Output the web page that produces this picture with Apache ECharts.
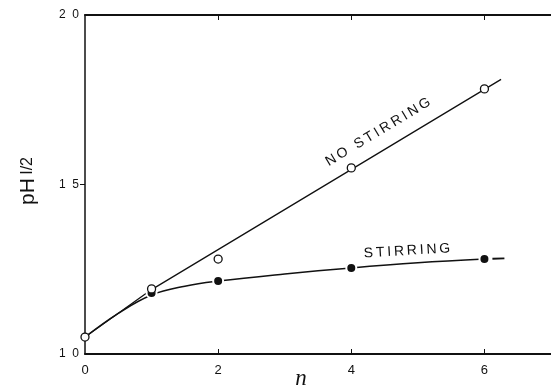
<!DOCTYPE html>
<html>
<head>
<meta charset="utf-8">
<script src="https://cdn.jsdelivr.net/npm/echarts@6/dist/echarts.min.js"></script>
<style>
  html, body { margin: 0; padding: 0; background: #fff; }
  #chart { width: 551px; height: 391px; }
</style>
</head>
<body>
<div id="chart"></div>
<script>
// Measured points: pH 1/2 against n
const nValues = [0, 1, 2, 4, 6];
const noStirringPoints = [10.5, 11.92, 12.8, 15.49, 17.82];
const stirringN = [1, 2, 4, 6];
const stirringPoints = [11.8, 12.15, 12.54, 12.8];

// Drawn trend curves through the data
const noStirringCurveN = [0, 1, 6.25];
const noStirringCurveY = [10.5, 11.9, 18.1];
const stirringCurveN = [0, 0.5, 1, 1.5, 2, 3, 4, 5, 6];
const stirringCurveY = [10.5, 11.2, 11.74, 12.0, 12.15, 12.36, 12.54, 12.69, 12.8];
const stirringTailN = [6.12, 6.3];
const stirringTailY = [12.81, 12.82];

// Axis ticks
const xTicks = [0, 2, 4, 6];
const yTicks = [10, 15, 20];
const yTickLabels = ['1  0', '1  5', '2  0'];

const pairs = (xs, ys) => xs.map((x, i) => [x, ys[i]]);
const font = '"Liberation Sans", "DejaVu Sans", sans-serif';
const ink = '#111';
const spaced = s => s.split('').join('\u2009');

const chart = echarts.init(document.getElementById('chart'));
chart.setOption({
  animation: false,
  backgroundColor: '#fff',
  grid: { left: 85, top: 15, right: 0, bottom: 37 },
  xAxis: [
    {
      type: 'value', min: 0, max: 7, position: 'bottom',
      splitLine: { show: false },
      axisLine: { lineStyle: { color: ink, width: 2 } },
      axisTick: { inside: true, length: 5, customValues: [2, 4, 6], lineStyle: { color: ink, width: 1 } },
      axisLabel: { customValues: xTicks, color: ink, fontFamily: font, fontSize: 13, margin: 10 }
    },
    {
      type: 'value', min: 0, max: 7, position: 'top',
      splitLine: { show: false },
      axisLine: { lineStyle: { color: ink, width: 2 } },
      axisTick: { inside: true, length: 5, customValues: [2, 4, 6], lineStyle: { color: ink, width: 1 } },
      axisLabel: { show: false }
    }
  ],
  yAxis: {
    type: 'value', min: 10, max: 20, interval: 5,
    splitLine: { show: false },
    axisLine: { lineStyle: { color: ink, width: 1.5 } },
    axisTick: { length: 5, customValues: [15], lineStyle: { color: ink, width: 1 } },
    axisLabel: {
      customValues: yTicks, color: ink, fontFamily: font, fontSize: 12, margin: 6,
      formatter: v => yTickLabels[yTicks.indexOf(v)]
    }
  },
  series: [
    {
      name: 'no stirring curve', type: 'line', xAxisIndex: 0,
      data: pairs(noStirringCurveN, noStirringCurveY),
      showSymbol: false, symbol: 'none',
      lineStyle: { color: ink, width: 1.3 }, z: 2
    },
    {
      name: 'stirring curve', type: 'line', xAxisIndex: 0, smooth: 0.4,
      data: pairs(stirringCurveN, stirringCurveY),
      showSymbol: false, symbol: 'none',
      lineStyle: { color: ink, width: 1.5 }, z: 2
    },
    {
      name: 'stirring tail', type: 'line', xAxisIndex: 0,
      data: pairs(stirringTailN, stirringTailY),
      showSymbol: false, symbol: 'none',
      lineStyle: { color: ink, width: 1.8 }, z: 2
    },
    {
      name: 'no stirring', type: 'scatter', xAxisIndex: 0,
      data: pairs(nValues, noStirringPoints),
      symbol: 'circle', symbolSize: 8,
      itemStyle: { color: '#fff', borderColor: ink, borderWidth: 1.3, opacity: 1 }, z: 4
    },
    {
      name: 'stirring', type: 'scatter', xAxisIndex: 0,
      data: pairs(stirringN, stirringPoints),
      symbol: 'circle', symbolSize: 10,
      itemStyle: { color: ink, borderColor: '#fff', borderWidth: 2, opacity: 1 }, z: 3
    }
  ],
  graphic: [
    {
      type: 'text', x: 378, y: 132, rotation: 31 * Math.PI / 180,
      style: {
        text: spaced('NO STIRRING'),
        font: '14px ' + font, fill: ink, align: 'center', verticalAlign: 'middle'
      }
    },
    {
      type: 'text', x: 407, y: 251, rotation: 3.5 * Math.PI / 180,
      style: {
        text: spaced('STIRRING'),
        font: '14px ' + font, fill: ink, align: 'center', verticalAlign: 'middle'
      }
    },
    {
      type: 'text', x: 28, y: 181, rotation: Math.PI / 2,
      style: {
        text: '{a|pH} {b|I/2}',
        align: 'center', verticalAlign: 'middle',
        rich: {
          a: { font: '21px ' + font, fill: ink },
          b: { font: '16px ' + font, fill: ink }
        }
      }
    },
    {
      type: 'text', x: 301, y: 379,
      style: {
        text: 'n', font: 'italic 23px "Liberation Serif", "DejaVu Serif", serif',
        fill: ink, align: 'center', verticalAlign: 'middle'
      }
    }
  ]
});
</script>
</body>
</html>
